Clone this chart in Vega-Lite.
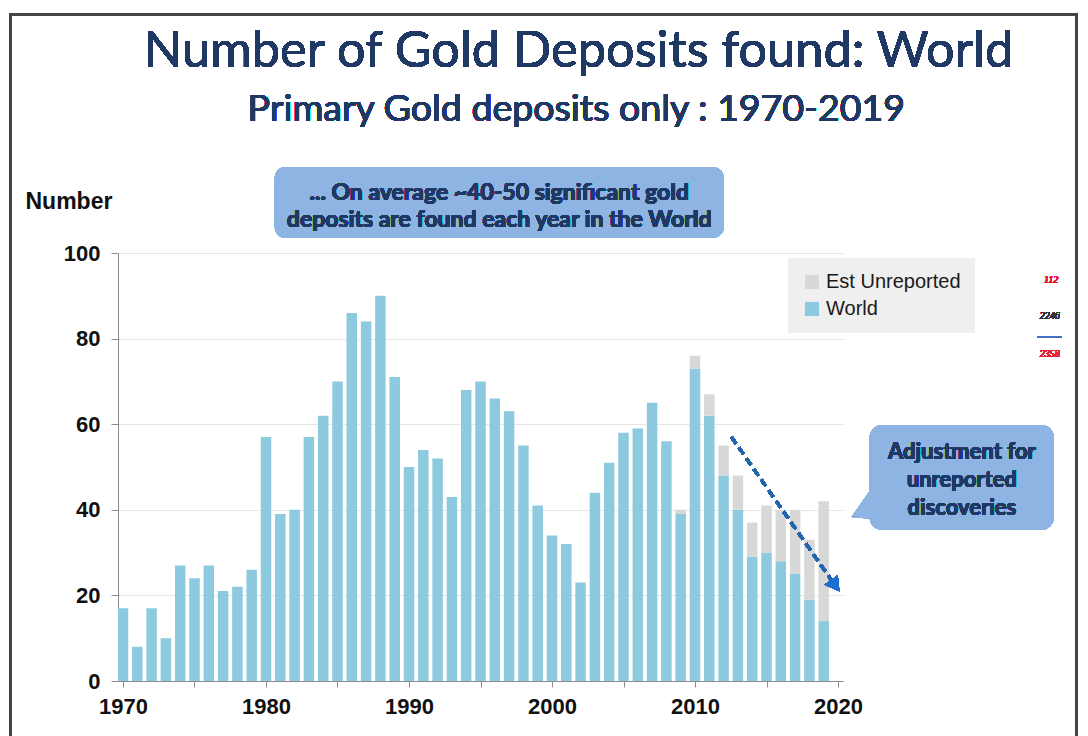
{
  "$schema": "https://vega.github.io/schema/vega-lite/v6.json",
  "width": 725,
  "height": 428,
  "autosize": {"type": "none"},
  "padding": {"left": 118, "top": 253, "right": 245, "bottom": 55},
  "background": "#ffffff",
  "config": {"view": {"stroke": null}},
  "data": {"values": [
    {"year": 1970, "World": 17}, {"year": 1971, "World": 8}, {"year": 1972, "World": 17}, {"year": 1973, "World": 10},
    {"year": 1974, "World": 27}, {"year": 1975, "World": 24}, {"year": 1976, "World": 27}, {"year": 1977, "World": 21},
    {"year": 1978, "World": 22}, {"year": 1979, "World": 26}, {"year": 1980, "World": 57}, {"year": 1981, "World": 39},
    {"year": 1982, "World": 40}, {"year": 1983, "World": 57}, {"year": 1984, "World": 62}, {"year": 1985, "World": 70},
    {"year": 1986, "World": 86}, {"year": 1987, "World": 84}, {"year": 1988, "World": 90}, {"year": 1989, "World": 71},
    {"year": 1990, "World": 50}, {"year": 1991, "World": 54}, {"year": 1992, "World": 52}, {"year": 1993, "World": 43},
    {"year": 1994, "World": 68}, {"year": 1995, "World": 70}, {"year": 1996, "World": 66}, {"year": 1997, "World": 63},
    {"year": 1998, "World": 55}, {"year": 1999, "World": 41}, {"year": 2000, "World": 34}, {"year": 2001, "World": 32},
    {"year": 2002, "World": 23}, {"year": 2003, "World": 44}, {"year": 2004, "World": 51}, {"year": 2005, "World": 58},
    {"year": 2006, "World": 59}, {"year": 2007, "World": 65}, {"year": 2008, "World": 56},
    {"year": 2009, "World": 39, "Est Unreported": 1}, {"year": 2010, "World": 73, "Est Unreported": 3},
    {"year": 2011, "World": 62, "Est Unreported": 5}, {"year": 2012, "World": 48, "Est Unreported": 7},
    {"year": 2013, "World": 40, "Est Unreported": 8}, {"year": 2014, "World": 29, "Est Unreported": 8},
    {"year": 2015, "World": 30, "Est Unreported": 11}, {"year": 2016, "World": 28, "Est Unreported": 12},
    {"year": 2017, "World": 25, "Est Unreported": 15}, {"year": 2018, "World": 19, "Est Unreported": 14},
    {"year": 2019, "World": 14, "Est Unreported": 28}
  ]},
  "layer": [
    {
      "transform": [{"fold": ["World", "Est Unreported"], "as": ["series", "n"]}],
      "mark": {"type": "bar", "clip": true, "width": 10.5},
      "encoding": {
        "x": {"field": "year", "type": "quantitative",
          "scale": {"domain": [1970, 2020], "nice": false, "zero": false},
          "axis": {"title": null, "values": [1970, 1975, 1980, 1985, 1990, 1995, 2000, 2005, 2010, 2015, 2020],
            "labelExpr": "datum.value % 10 == 0 ? datum.label : ''", "format": "d", "grid": false,
            "domainColor": "#8c8c8c", "tickColor": "#8c8c8c", "tickSize": 6, "labelPadding": 9,
            "labelFont": "Liberation Sans", "labelFontWeight": "bold", "labelFontSize": 22, "labelColor": "#111111"}},
        "y": {"field": "n", "type": "quantitative", "stack": "zero",
          "scale": {"domain": [0, 100], "nice": false},
          "axis": {"title": "Number", "titleAngle": 0, "titleX": -93, "titleY": -45, "titleAlign": "left",
            "titleBaseline": "alphabetic", "titleFont": "Liberation Sans", "titleFontSize": 23, "titleFontWeight": "bold",
            "titleColor": "#111111", "values": [0, 20, 40, 60, 80, 100], "gridColor": "#e6e6e6", "gridWidth": 1,
            "domainColor": "#8c8c8c", "tickColor": "#8c8c8c", "tickSize": 7, "labelPadding": 11,
            "labelFont": "Liberation Sans", "labelFontWeight": "bold", "labelFontSize": 22, "labelColor": "#111111"}},
        "color": {"field": "series", "type": "nominal",
          "scale": {"domain": ["Est Unreported", "World"], "range": ["#d8d8d8", "#8dcadf"]},
          "legend": {"orient": "none", "legendX": 670, "legendY": 5, "title": null, "fillColor": "#efefef",
            "padding": 14, "symbolType": "square", "symbolSize": 200, "symbolStrokeWidth": 0,
            "labelFont": "Liberation Sans", "labelFontSize": 20, "labelColor": "#1a1a1a",
            "rowPadding": 7, "labelOffset": 4}},
        "order": {"field": "series", "sort": "descending"}
      }
    },
    {
      "mark": {"type": "rect", "filled": false, "stroke": "#444444", "strokeWidth": 2},
      "encoding": {
        "x": {"datum": 1962.14, "type": "quantitative"}, "x2": {"datum": 2036.69},
        "y": {"datum": 155.8, "type": "quantitative"}, "y2": {"datum": -20}
      }
    },
    {
      "mark": {"type": "rect", "fill": "#8db4e2", "cornerRadius": 11},
      "encoding": {
        "x": {"datum": 1980.62, "type": "quantitative"}, "x2": {"datum": 2012.0},
        "y": {"datum": 120.1, "type": "quantitative"}, "y2": {"datum": 103.5}
      }
    },
    {
      "mark": {"type": "text", "text": ["... On average ~40-50 significant gold", "deposits are found each year in the World"],
        "font": "Lato", "fontWeight": "bold", "fontSize": 23, "fill": "#1f3864", "strokeWidth": 0, "align": "center",
        "baseline": "alphabetic", "lineHeight": 27},
      "encoding": {"x": {"datum": 1996.31, "type": "quantitative"}, "y": {"datum": 112.4, "type": "quantitative"}}
    },
    {
      "mark": {"type": "point", "shape": "M0.3,-0.9L-0.65,0.45L1,0.6Z", "size": 1600, "filled": true,
        "fill": "#8db4e2", "opacity": 1, "strokeWidth": 0},
      "encoding": {"x": {"datum": 2021.86, "type": "quantitative"}, "y": {"datum": 40.4, "type": "quantitative"}}
    },
    {
      "mark": {"type": "rect", "fill": "#8db4e2", "cornerRadius": 13},
      "encoding": {
        "x": {"datum": 2022.21, "type": "quantitative"}, "x2": {"datum": 2035.1},
        "y": {"datum": 59.81, "type": "quantitative"}, "y2": {"datum": 35.28}
      }
    },
    {
      "mark": {"type": "text", "text": ["Adjustment for", "unreported", "discoveries"],
        "font": "Lato", "fontWeight": "bold", "fontSize": 22, "fill": "#1f3864", "strokeWidth": 0, "align": "center",
        "baseline": "alphabetic", "lineHeight": 28},
      "encoding": {"x": {"datum": 2028.66, "type": "quantitative"}, "y": {"datum": 51.9, "type": "quantitative"}}
    },
    {
      "mark": {"type": "rule", "color": "#2466ae", "strokeWidth": 3, "strokeDash": [8, 5]},
      "encoding": {
        "x": {"datum": 2012.55, "type": "quantitative"}, "x2": {"datum": 2019.66},
        "y": {"datum": 57.0, "type": "quantitative"}, "y2": {"datum": 23.0}
      }
    },
    {
      "mark": {"type": "point", "shape": "triangle-up", "angle": 144, "size": 260, "filled": true,
        "fill": "#1e6fd0", "opacity": 1, "strokeWidth": 0},
      "encoding": {"x": {"datum": 2019.81, "type": "quantitative"}, "y": {"datum": 22.3, "type": "quantitative"}}
    },
    {
      "mark": {"type": "text", "text": "Number of Gold Deposits found: World", "font": "Lato", "fontSize": 50.5,
        "fill": "#1f3864", "strokeWidth": 0, "align": "center", "baseline": "alphabetic"},
      "encoding": {"x": {"datum": 2001.86, "type": "quantitative"}, "y": {"datum": 143.5, "type": "quantitative"}}
    },
    {
      "mark": {"type": "text", "text": "Primary Gold deposits only : 1970-2019", "font": "Lato", "fontSize": 37.5,
        "fill": "#1f3864", "strokeWidth": 0, "align": "center", "baseline": "alphabetic"},
      "encoding": {"x": {"datum": 2001.7, "type": "quantitative"}, "y": {"datum": 130.8, "type": "quantitative"}}
    },
    {
      "mark": {"type": "text", "text": "112", "font": "Liberation Serif", "fontStyle": "italic", "fontSize": 10,
        "fill": "#e8202a", "strokeWidth": 0, "align": "center", "baseline": "middle"},
      "encoding": {"x": {"datum": 2034.9, "type": "quantitative"}, "y": {"datum": 93.7, "type": "quantitative"}}
    },
    {
      "mark": {"type": "text", "text": "2246", "font": "Liberation Serif", "fontStyle": "italic", "fontSize": 10,
        "fill": "#333333", "strokeWidth": 0, "align": "center", "baseline": "middle"},
      "encoding": {"x": {"datum": 2034.8, "type": "quantitative"}, "y": {"datum": 85.3, "type": "quantitative"}}
    },
    {
      "mark": {"type": "rule", "color": "#4472c4", "strokeWidth": 1},
      "encoding": {
        "x": {"datum": 2033.93, "type": "quantitative"}, "x2": {"datum": 2035.66},
        "y": {"datum": 80.37, "type": "quantitative"}
      }
    },
    {
      "mark": {"type": "text", "text": "2358", "font": "Liberation Serif", "fontStyle": "italic", "fontSize": 10,
        "fill": "#e8202a", "strokeWidth": 0, "align": "center", "baseline": "middle"},
      "encoding": {"x": {"datum": 2034.8, "type": "quantitative"}, "y": {"datum": 76.4, "type": "quantitative"}}
    }
  ]
}
